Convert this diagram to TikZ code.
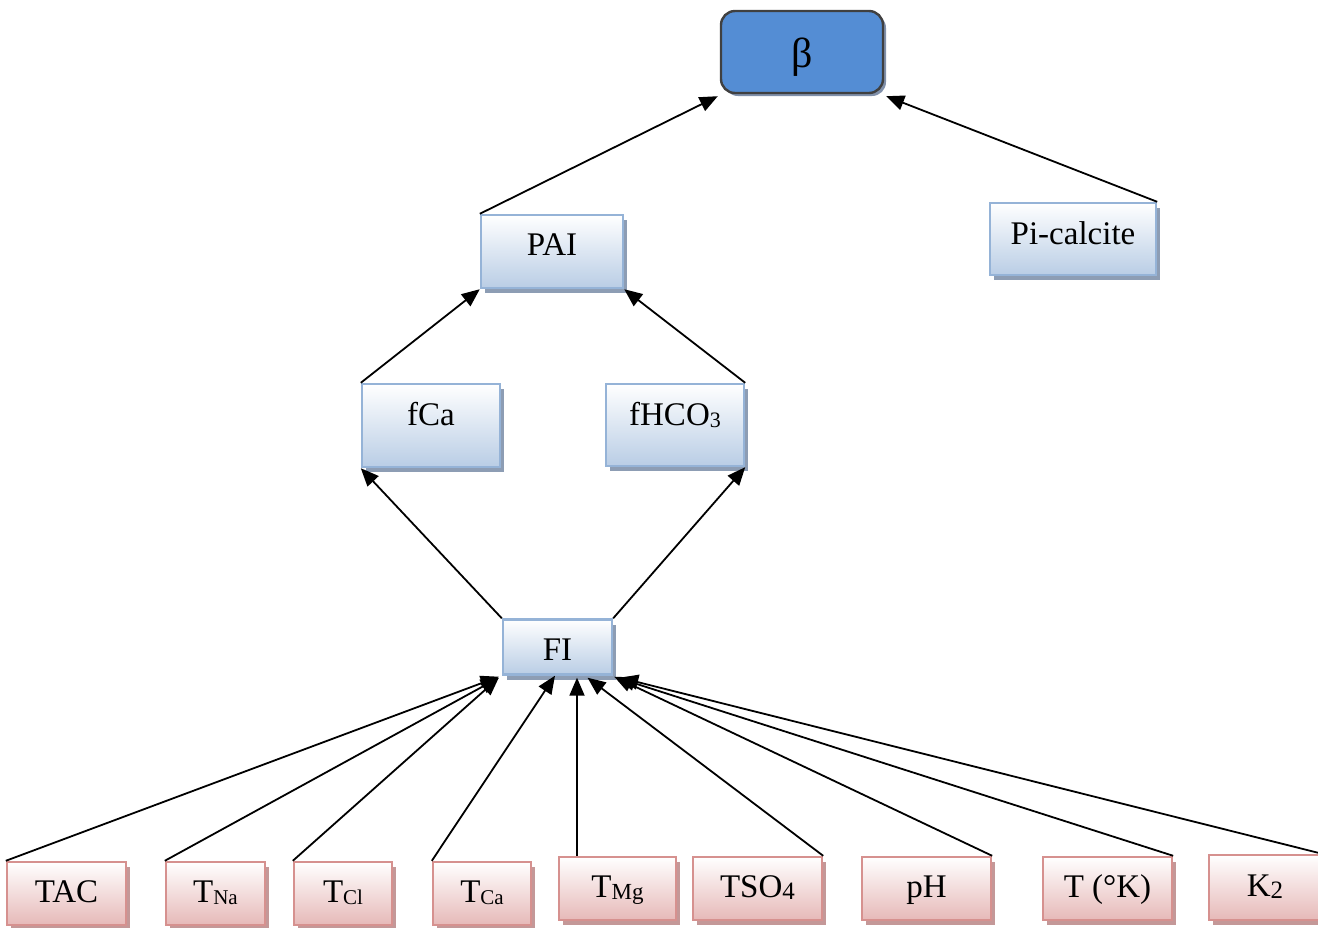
\documentclass[tikz,border=0pt]{standalone}
\usepackage{fontspec}
\setmainfont{Liberation Serif}
\usetikzlibrary{arrows.meta,shadows}

\definecolor{blueline}{RGB}{149,179,215}
\definecolor{bluefill}{RGB}{185,205,229}
\definecolor{blueshadow}{RGB}{141,157,180}
\definecolor{pinkline}{RGB}{214,145,143}
\definecolor{pinkfill}{RGB}{230,185,184}
\definecolor{pinkshadow}{RGB}{196,152,152}
\definecolor{betafill}{RGB}{84,141,212}
\definecolor{betaline}{RGB}{64,64,64}
\definecolor{betashadow}{RGB}{128,144,170}

% lowered, smaller index text (T_Na, TSO_4, ...)
\newcommand\lsub[2][10.5]{\raisebox{-1.3pt}{\fontsize{#1}{12}\selectfont #2}}

\begin{document}
\begin{tikzpicture}[x=0.5pt,y=-0.5pt,
  box/.style={draw, line width=1.2pt, inner sep=0pt,
    font=\fontsize{16.5}{19}\selectfont, text height=10.5pt, text depth=2pt},
  bluebox/.style={box, draw=blueline, top color=white, bottom color=bluefill,
    drop shadow={shadow xshift=2pt, shadow yshift=-2.5pt, fill=blueshadow, opacity=1}},
  pinkbox/.style={box, draw=pinkline, top color=white, bottom color=pinkfill,
    drop shadow={shadow xshift=2pt, shadow yshift=-2.5pt, fill=pinkshadow, opacity=1}},
  betabox/.style={draw=betaline, line width=1.2pt, fill=betafill, rounded corners=7pt,
    inner sep=0pt, font=\fontsize{21}{24}\selectfont, text height=20pt, text depth=4.2pt,
    drop shadow={shadow xshift=1.5pt, shadow yshift=-1.5pt, fill=betashadow, opacity=1}},
  arr/.style={-{Triangle[length=9pt,width=7.5pt]}, line width=0.9pt, black}
]
\useasboundingbox (0,0) rectangle (1318,927);

% top level
\node[betabox, minimum width=81pt, minimum height=41pt] (beta) at (802,52) {β};

% intermediate quantities
\node[bluebox, minimum width=71pt, minimum height=36.5pt, text depth=6.5pt] (pai) at (552,251.5) {PAI};
\node[bluebox, minimum width=83pt, minimum height=36pt, text depth=5.5pt] (pic) at (1073,239) {Pi-calcite};
\node[bluebox, minimum width=69pt, minimum height=41.5pt, text depth=10.5pt] (fca) at (431,425.5) {fCa};
\node[bluebox, minimum width=69pt, minimum height=41pt, text depth=10.5pt] (fhco) at (675,425) {fHCO\lsub[11]{3}};
\node[bluebox, minimum width=54.5pt, minimum height=27.5pt, text height=13.5pt, text depth=0pt] (fi) at (557.5,647) {FI};

% input parameters
\node[pinkbox, minimum width=59.5pt, minimum height=31.5pt] (tac) at (66.5,893.5) {TAC};
\node[pinkbox, minimum width=49.5pt, minimum height=31.5pt] (tna) at (215.5,893.5) {T\lsub{Na}};
\node[pinkbox, minimum width=49pt, minimum height=31.5pt] (tcl) at (343,893.5) {T\lsub{Cl}};
\node[pinkbox, minimum width=49pt, minimum height=31.5pt] (tca) at (482,893.5) {T\lsub{Ca}};
\node[pinkbox, minimum width=58.5pt, minimum height=31.5pt] (tmg) at (617.5,888.5) {T\lsub[11.5]{Mg}};
\node[pinkbox, minimum width=64.5pt, minimum height=31.5pt] (tso) at (757.5,888.5) {TSO\lsub[12.5]{4}};
\node[pinkbox, minimum width=64.5pt, minimum height=31.5pt] (ph) at (926.5,888.5) {pH};
\node[pinkbox, minimum width=64.5pt, minimum height=31.5pt] (tk) at (1107.5,888.5) {T (°K)};
\node[pinkbox, minimum width=56pt, minimum height=32.5pt] (k2) at (1265,887.5) {K\lsub[12.5]{2}};

% upper connections
\draw[arr] (fi.north west) -- (fca.south west);
\draw[arr] (fi.north east) -- (fhco.south east);
\draw[arr] (fca.north west) -- (pai.south west);
\draw[arr] (fhco.north east) -- (pai.south east);
\draw[arr] (pai.north west) -- ([xshift=-1pt,yshift=-1pt]beta.south west);
\draw[arr] (pic.north east) -- ([xshift=1pt,yshift=-1pt]beta.south east);

% inputs into FI
\draw[arr] (tac.north west) -- ([xshift=-1.5pt,yshift=-0.5pt]fi.south west);
\draw[arr] (tna.north west) -- ([xshift=-1.5pt,yshift=-1pt]fi.south west);
\draw[arr] (tcl.north west) -- ([xshift=-1.5pt,yshift=-1pt]fi.south west);
\draw[arr] (tca.north west) -- ([xshift=-1.25pt]fi.south);
\draw[arr] ([xshift=9.75pt]fi.south |- tmg.north) -- ([xshift=9.75pt,yshift=-1pt]fi.south);
\draw[arr] (tso.north east) -- ([xshift=15pt,yshift=-1pt]fi.south);
\draw[arr] (ph.north east) -- ([xshift=0.5pt,yshift=-0.5pt]fi.south east);
\draw[arr] (tk.north east) -- ([xshift=2pt,yshift=-1pt]fi.south east);
\draw[arr] (k2.north east) -- ([xshift=3.5pt,yshift=-1pt]fi.south east);
\end{tikzpicture}
\end{document}
